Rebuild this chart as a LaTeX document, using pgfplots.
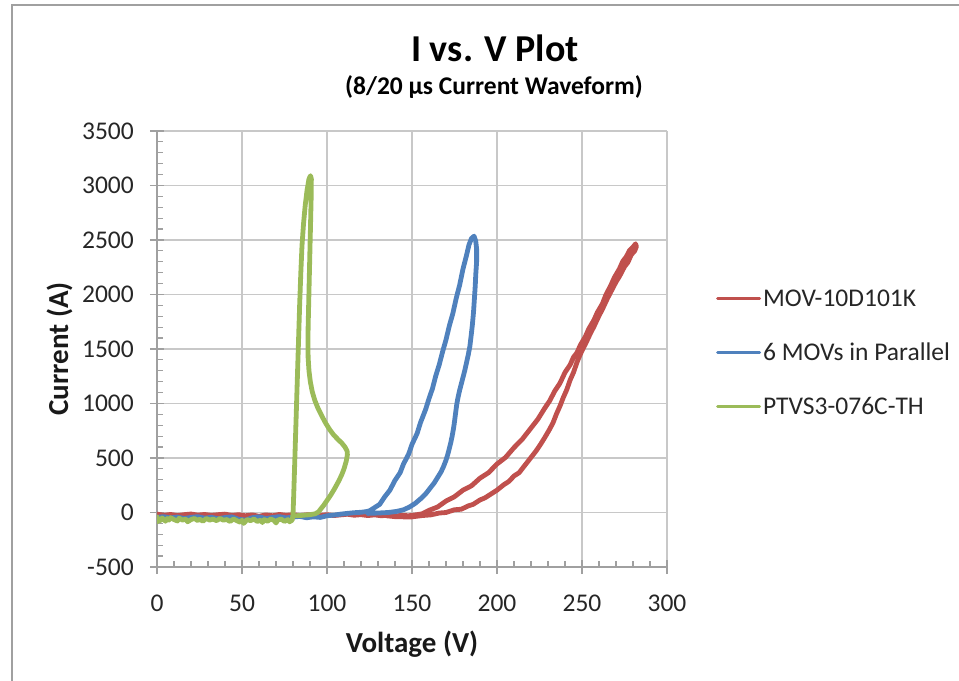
\documentclass[border=0pt]{standalone}
\usepackage{fontspec}
\setmainfont{Carlito}
\usepackage{pgfplots}
\pgfplotsset{compat=1.18}

\definecolor{movred}{HTML}{C0504D}
\definecolor{movblue}{HTML}{4F81BD}
\definecolor{tvsgreen}{HTML}{9BBB59}
\definecolor{gridgray}{HTML}{C8C8C8}
\definecolor{axisgray}{HTML}{A0A0A0}

\begin{document}
\begin{tikzpicture}
\useasboundingbox (0,0) rectangle (959bp,681bp);
\draw[axisgray, line width=1.6bp] (12bp,0bp) -- (12bp,676bp) -- (959bp,676bp);
\node[font=\bfseries\fontsize{38bp}{42bp}\selectfont, anchor=base] at (495bp,619bp) {I vs. V Plot};
\node[font=\bfseries\fontsize{25.5bp}{30bp}\selectfont, anchor=base] at (494bp,586bp) {(8/20 µs Current Waveform)};

\begin{axis}[
    at={(157bp,114bp)}, anchor=south west,
    scale only axis,
    width=510bp, height=436bp,
    xmin=0, xmax=300, ymin=-500, ymax=3500,
    xtick={0,50,...,300}, ytick={-500,0,...,3500},
    minor x tick num=4, minor y tick num=4,
    axis x line=bottom, axis y line=left,
    axis line style={-, draw=axisgray, line width=1.2bp},
    tick style={draw=axisgray, line width=1.2bp},
    tick align=inside,
    major tick length=7bp, minor tick length=6bp,
    extra x ticks={0,50,...,300}, extra y ticks={-500,0,...,3500},
    extra tick style={tick align=outside, major tick length=7bp, grid=none,
        xticklabel={}, yticklabel={}},
    grid=major,
    major grid style={draw=gridgray, line width=1.5bp},
    /pgf/number format/assume math mode=true,
    /pgf/number format/1000 sep={},
    tick label style={font=\fontsize{25.5bp}{30bp}\selectfont, text=black!85},
    xticklabel style={anchor=center, inner sep=0pt, yshift=-36bp},
    yticklabel style={anchor=east, inner sep=0pt, xshift=-23bp},
    xlabel={\textbf{Voltage (V)}},
    ylabel={\textbf{Current (A)}},
    label style={font=\fontsize{29bp}{34bp}\selectfont, text=black!90},
    xlabel style={at={(axis description cs:0.5,-0.195)}, anchor=base},
    ylabel style={at={(axis description cs:-0.1745,0.5)}, anchor=base},
    legend style={at={(1.096,0.491)}, anchor=west, draw=none, fill=none,
        font=\fontsize{25.5bp}{30bp}\selectfont, text=black!85,
        row sep=31bp, column sep=0bp, inner sep=0pt},
    legend cell align=left,
    legend image code/.code={\draw[#1, line width=3bp] (0bp,0bp) -- (42bp,0bp);},
    every axis plot/.append style={line width=4.8bp, line join=round, line cap=round},
]

% MOV-10D101K: baseline, upper-left branch up, lower-right branch down
\addplot[movred] coordinates {
(0,-15) (4,-25) (8,-18) (12,-28) (16,-20) (20,-14) (24,-24) (28,-18) (32,-26) (36,-20)
(40,-15) (44,-27) (48,-20) (52,-30) (56,-22) (60,-35) (64,-22) (68,-30) (72,-18) (76,-26)
(80,-20) (84,-28) (88,-22) (92,-18) (96,-26) (100,-20) (104,-28) (108,-22) (112,-16) (116,-25)
(120,-20) (124,-28) (128,-22) (132,-30) (136,-24) (140,-32) (144,-26) (148,-30) (152,-22) (156,-12)
(160,20) (165,50) (170,105) (175,145) (180,205) (185,245) (190,315) (195,365) (200,445) (205,505)
(210,595) (215,675) (220,775) (224,855) (228,955) (231,1025) (234,1115) (237,1185) (240,1285) (243,1355)
(245,1425) (247,1465) (249,1535) (252,1615) (254,1685) (257,1765) (259,1835) (262,1915) (264,1995) (267,2085)
(269,2155) (272,2235) (274,2305) (276,2345) (278,2405) (280,2435) (281.5,2465)
(282,2440) (281,2400) (279,2365) (277,2295) (275,2255) (272,2165) (270,2115) (267,2025) (265,1965)
(262,1865) (260,1805) (257,1705) (255,1645) (252,1545) (250,1485) (248,1415) (247,1375) (245,1285)
(243,1215) (241,1125) (239,1055) (237,975) (235,905) (233,825) (231,765) (228,685) (226,635)
(223,565) (221,525) (218,465) (216,425) (213,365) (210,335) (207,285) (204,255) (200,205)
(197,175) (193,135) (190,115) (186,75) (183,60) (179,30) (175,25) (170,0) (166,-5)
(161,-22) (156,-28) (150,-40) (145,-40) (140,-38) (135,-30)
};
\addlegendentry{MOV-10D101K}

% 6 MOVs in Parallel
\addplot[movblue] coordinates {
(0,-45) (4,-38) (8,-50) (12,-42) (16,-55) (20,-45) (24,-38) (28,-52) (32,-44) (36,-58)
(40,-46) (44,-40) (48,-62) (52,-70) (56,-48) (60,-40) (64,-55) (68,-46) (72,-38) (76,-50)
(80,-42) (84,-36) (88,-48) (92,-40) (96,-45) (100,-30) (104,-24) (108,-15) (112,-8) (116,-2)
(120,2) (123,8) (125,15) (128,45) (131,75) (134,145) (137,205) (140,295) (143,365) (145,445)
(148,535) (150,625) (153,725) (155,825) (158,945) (160,1045) (162,1135) (164,1255) (166,1355)
(168,1475) (170,1585) (172,1715) (174,1825) (176,1965) (178,2085) (180,2235) (182,2355)
(183.5,2455) (185,2515) (186.5,2535) (187.5,2490) (188,2420) (188,2300) (187.5,2180)
(187.2,2080) (186.7,1960) (186.2,1840) (185.5,1720) (184.7,1610) (184,1520) (183,1440)
(182,1370) (181,1300) (180,1240) (179,1180) (178,1120) (177,1050) (176.3,990) (175.8,930)
(175.3,870) (174.8,810) (174.3,760) (173.6,700) (172.8,640) (172,590) (171,530) (170,480)
(168.5,420) (167,370) (165,320) (163,270) (160.5,220) (158,170) (155,125) (152,85)
(148.5,50) (145,25) (141,10) (136,0) (130,-5) (124,-8)
};
\addlegendentry{6 MOVs in Parallel}

% PTVS3-076C-TH
\addplot[tvsgreen] coordinates {
(0,-40) (0.5,-85) (1,-55) (2,-75) (3,-50) (4,-65) (5,-80) (6,-55) (7,-70) (8,-48)
(10,-65) (12,-78) (13,-52) (15,-70) (17,-60) (18,-85) (20,-65) (22,-55) (24,-75) (25,-60)
(27,-80) (29,-55) (31,-70) (33,-60) (35,-75) (37,-55) (39,-70) (41,-65) (43,-82) (45,-60)
(47,-75) (49,-90) (50,-70) (51,-100) (53,-65) (55,-75) (57,-60) (59,-82) (61,-70) (62,-92)
(63,-65) (65,-80) (67,-60) (69,-75) (70,-96) (71,-70) (73,-60) (75,-82) (77,-65) (78,-85)
(79.5,-70) (80,-20) (80.4,150) (80.9,400) (81.5,700) (82.1,1000) (82.7,1300) (83.3,1600)
(83.9,1900) (84.6,2200) (85.3,2450) (86.2,2650) (87.2,2820) (88.3,2960) (89.4,3060) (90.3,3090)
(90.8,3060) (90.7,2900) (90.4,2700) (90.1,2500) (89.8,2300) (89.5,2100) (89.2,1900)
(88.9,1700) (88.8,1550) (88.9,1420) (89.4,1300) (90.2,1200) (91.3,1110) (92.8,1030)
(94.6,960) (96.8,890) (99.2,820) (101.6,760) (104,710) (106.5,670) (108.8,635) (110.6,600)
(111.8,565) (112,530) (111.3,470) (110,400) (108.5,340) (106.6,280) (104.5,220) (102.2,160)
(100,110) (98,65) (96.2,30) (95,5) (93,-12) (90,-20) (87,-24) (84,-28) (81,-30)
};
\addlegendentry{PTVS3-076C-TH}
\end{axis}
\end{tikzpicture}
\end{document}
